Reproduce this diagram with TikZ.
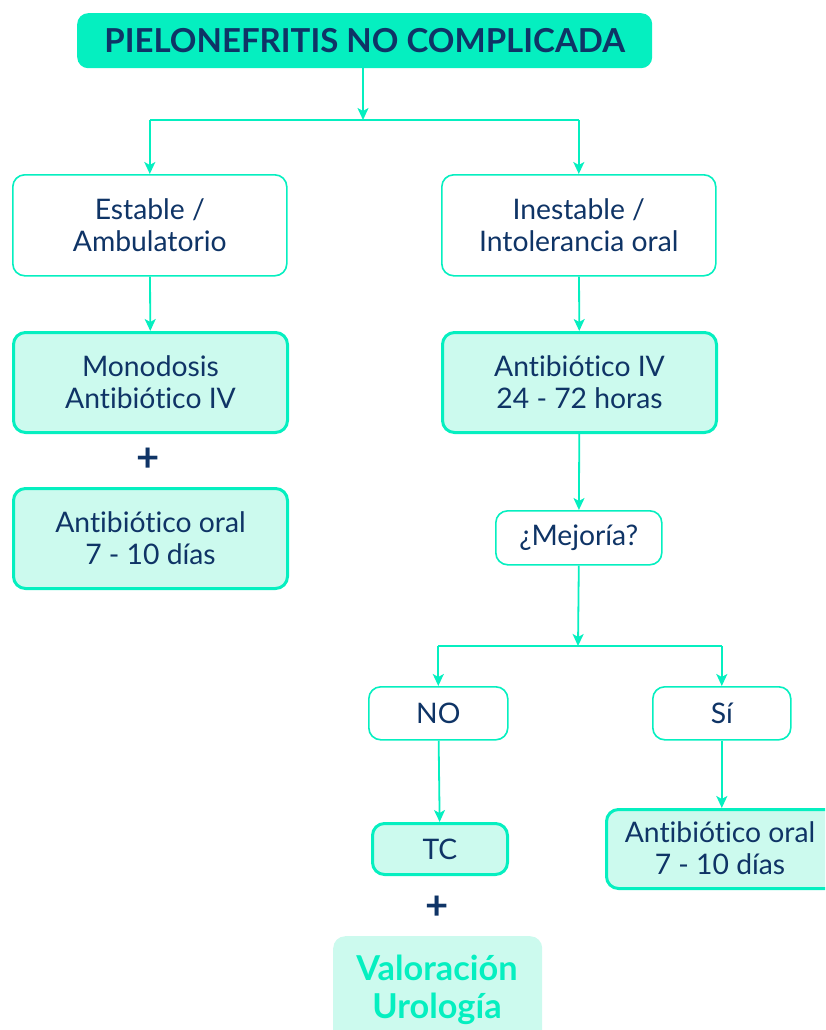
\documentclass[tikz,border=0pt]{standalone}
\usepackage{fontspec}
\setmainfont[Ligatures=NoCommon]{Lato}
\usetikzlibrary{arrows.meta}
\definecolor{teal1}{HTML}{05EFC0}
\definecolor{mint}{HTML}{CCFAEE}
\definecolor{navy}{HTML}{0F3466}
\tikzset{
  x=1pt, y=-1pt,
  box/.style={draw=teal1, rounded corners=12pt, align=center, text=navy,
    font=\fontsize{28.3}{32}\selectfont, inner sep=0pt, anchor=north west},
  plainbox/.style={box, fill=white, line width=1.6pt},
  fillbox/.style={box, fill=mint, line width=3pt},
  conn/.style={draw=teal1, line width=1.8pt},
  arr/.style={conn, -{Stealth[length=12pt,width=11pt,inset=3pt]}},
  plus/.style={text=navy, font=\fontsize{40}{40}\selectfont\bfseries}
}
\begin{document}
\begin{tikzpicture}
\path[use as bounding box] (0,0) rectangle (825,1030);
\clip (0,0) rectangle (825,1030);

% title
\node[box, fill=teal1, draw=none, minimum width=575pt, minimum height=55pt,
  rounded corners=11pt, font=\fontsize{33}{34}\selectfont\bfseries]
  (title) at (77,13) {PIELONEFRITIS NO COMPLICADA};

% left branch
\node[plainbox, minimum width=274pt, minimum height=101pt] (est) at (12,174) {Estable /\\Ambulatorio};
\node[fillbox, minimum width=274pt, minimum height=100pt] (mono) at (12,331) {Monodosis\\Antibiótico IV};
\node[plus] (plusA) at (148,460) {+};
\node[fillbox, minimum width=274pt, minimum height=100pt] (oralA) at (12,487) {Antibiótico oral\\7 - 10 días};

% right branch
\node[plainbox, minimum width=274pt, minimum height=101pt] (inest) at (441,174) {Inestable /\\Intolerancia oral};
\node[fillbox, minimum width=274pt, minimum height=100pt] (ivr) at (441,331) {Antibiótico IV\\24 - 72 horas};
\node[plainbox, minimum width=166pt, minimum height=54pt] (mej) at (495,510) {¿Mejoría?};

% outcome of improvement question
\node[plainbox, minimum width=139pt, minimum height=53pt] (no) at (368,686) {NO};
\node[plainbox, minimum width=138pt, minimum height=53pt] (si) at (652,686) {Sí};
\node[fillbox, minimum width=135pt, minimum height=51pt] (tc) at (371,822) {TC};
\node[plus] (plusB) at (437,908) {+};
\node[box, fill=mint, draw=none, minimum width=209pt, minimum height=110pt]
  (uro) at (333,936) {};
\node[text=teal1, font=\fontsize{34.3}{38}\selectfont\bfseries, align=center, anchor=north]
  (urotxt) at (437,951) {Valoración\\Urología};
\node[fillbox, minimum width=240pt, minimum height=79pt] (oralB) at (605,808) {};
\node[text=navy, font=\fontsize{28.3}{32}\selectfont, align=center] (oralBtxt) at (720,848) {Antibiótico oral\\7 - 10 días};

% junctions
\coordinate (j1) at (363,120);
\coordinate (j2) at (578,646);

% connectors
\draw[arr] (title.south -| j1) -- (j1);
\draw[conn] (est.north |- j1) -- (inest.north |- j1);
\draw[arr] (est.north |- j1) -- (est.north);
\draw[arr] (inest.north |- j1) -- (inest.north);
\draw[arr] (est) -- (mono);
\draw[arr] (inest) -- (ivr);
\draw[arr] (ivr) -- (mej);
\draw[arr] (mej.south) -- (j2);
\draw[conn] (no.north |- j2) -- (si.north |- j2);
\draw[arr] (no.north |- j2) -- (no.north);
\draw[arr] (si.north |- j2) -- (si.north);
\draw[arr] (no) -- (tc);
\draw[arr] (si.south) -- (si.south |- oralB.north);
\end{tikzpicture}
\end{document}
